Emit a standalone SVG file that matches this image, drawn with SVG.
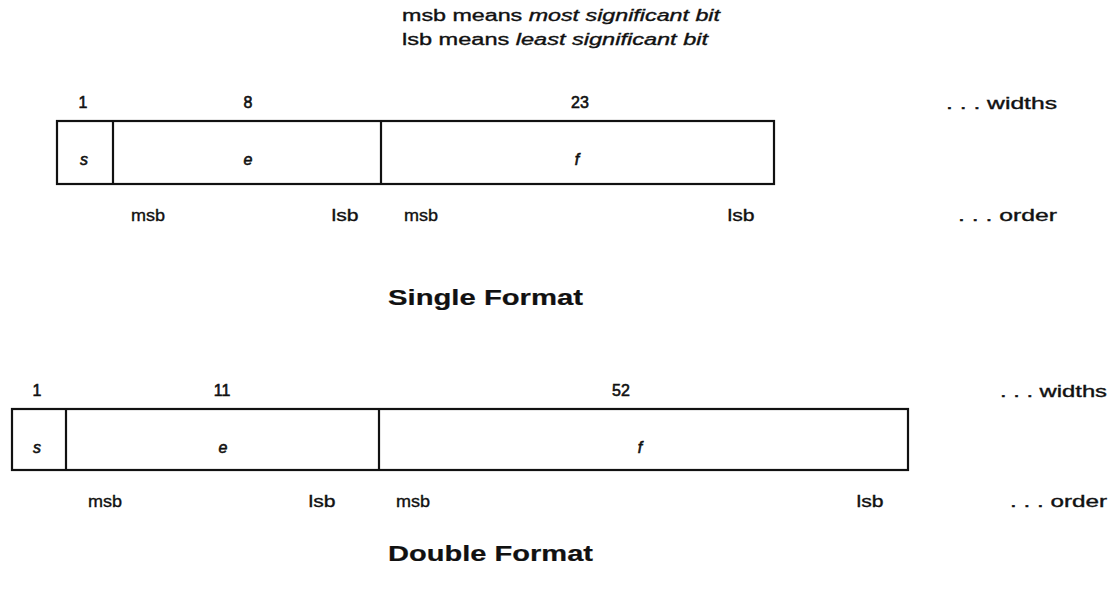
<svg xmlns="http://www.w3.org/2000/svg" width="1112" height="595" viewBox="0 0 1112 595">
<style>
text{font-family:"Liberation Sans",Arial,sans-serif;fill:#111;stroke:#111;stroke-width:0.35;}
.lbl{font-size:16px;}
.num{font-size:16px;text-anchor:middle;stroke-width:0.6;}
.fld{font-size:16px;font-style:italic;text-anchor:middle;stroke-width:0.6;}
.ord{font-size:16px;text-anchor:middle;}
.ttl{font-size:22px;font-weight:bold;stroke-width:0.2;}
.box{fill:#fff;stroke:#111;stroke-width:2.2;}
.div{stroke:#111;stroke-width:2.2;}
</style>
<rect width="1112" height="595" fill="#fff"/>
<g id="legend">
<text class="lbl" x="402" y="21" textLength="318" lengthAdjust="spacingAndGlyphs">msb means <tspan font-style="italic">most significant bit</tspan></text>
<text class="lbl" x="402" y="45" textLength="306" lengthAdjust="spacingAndGlyphs">lsb means <tspan font-style="italic">least significant bit</tspan></text>
</g>
<g id="single">
<rect class="box" x="57" y="121" width="717" height="63"/>
<line class="div" x1="113" y1="121" x2="113" y2="184"/>
<line class="div" x1="381" y1="121" x2="381" y2="184"/>
<text class="num" x="83" y="108">1</text>
<text class="num" x="248" y="108">8</text>
<text class="num" x="580" y="108">23</text>
<text class="lbl" x="946" y="109" textLength="111" lengthAdjust="spacingAndGlyphs">. . . widths</text>
<text class="fld" x="84" y="165">s</text>
<text class="fld" x="248" y="165">e</text>
<text class="fld" x="577" y="165">f</text>
<text class="ord" x="148" y="221" textLength="34" lengthAdjust="spacingAndGlyphs">msb</text>
<text class="ord" x="345" y="221" textLength="27" lengthAdjust="spacingAndGlyphs">lsb</text>
<text class="ord" x="421" y="221" textLength="34" lengthAdjust="spacingAndGlyphs">msb</text>
<text class="ord" x="741" y="221" textLength="27" lengthAdjust="spacingAndGlyphs">lsb</text>
<text class="lbl" x="958" y="221" textLength="99" lengthAdjust="spacingAndGlyphs">. . . order</text>
<text class="ttl" x="388" y="305" textLength="195" lengthAdjust="spacingAndGlyphs">Single Format</text>
</g>
<g id="double">
<rect class="box" x="12" y="409" width="896" height="61"/>
<line class="div" x1="66" y1="409" x2="66" y2="470"/>
<line class="div" x1="379" y1="409" x2="379" y2="470"/>
<text class="num" x="37" y="396">1</text>
<text class="num" x="222" y="396">11</text>
<text class="num" x="621" y="396">52</text>
<text class="lbl" x="1000" y="397" textLength="107" lengthAdjust="spacingAndGlyphs">. . . widths</text>
<text class="fld" x="37" y="453">s</text>
<text class="fld" x="223" y="453">e</text>
<text class="fld" x="640" y="453">f</text>
<text class="ord" x="105" y="507" textLength="34" lengthAdjust="spacingAndGlyphs">msb</text>
<text class="ord" x="322" y="507" textLength="27" lengthAdjust="spacingAndGlyphs">lsb</text>
<text class="ord" x="413" y="507" textLength="34" lengthAdjust="spacingAndGlyphs">msb</text>
<text class="ord" x="870" y="507" textLength="27" lengthAdjust="spacingAndGlyphs">lsb</text>
<text class="lbl" x="1010" y="507" textLength="97" lengthAdjust="spacingAndGlyphs">. . . order</text>
<text class="ttl" x="388" y="561" textLength="205" lengthAdjust="spacingAndGlyphs">Double Format</text>
</g>
</svg>
